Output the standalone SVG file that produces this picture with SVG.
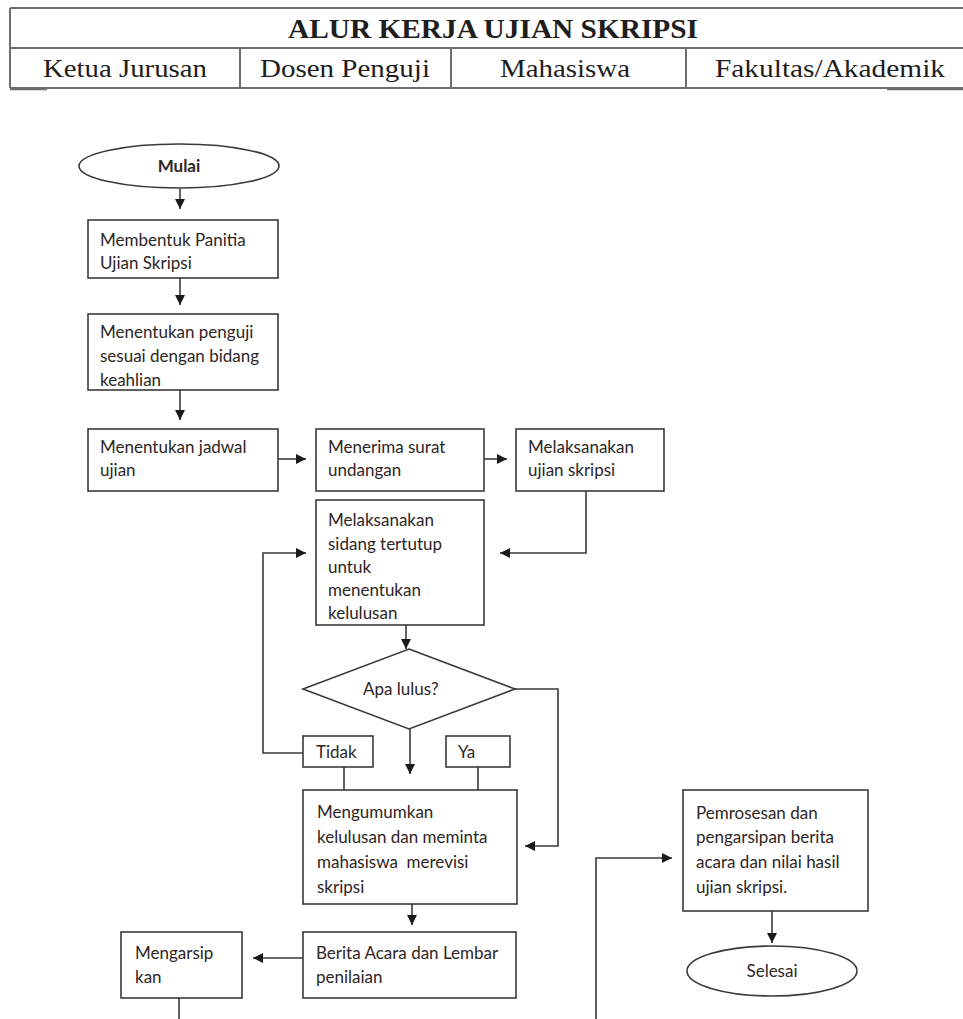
<svg xmlns="http://www.w3.org/2000/svg" width="963" height="1019" viewBox="0 0 963 1019">
<style>
.hd{fill:none;stroke:#6e6e6e;stroke-width:2}
.nd{fill:#fff;stroke:#3a3a3a;stroke-width:1.6}
.cn{fill:none;stroke:#3a3a3a;stroke-width:1.6}
.t{font-family:Lato,"Open Sans",sans-serif;font-size:17px;fill:#2e2626}
.b{font-weight:bold}
.ht{font-family:"Liberation Serif","Times New Roman",serif;fill:#1e1e1e}
</style>
<defs>
<marker id="ah" markerUnits="userSpaceOnUse" markerWidth="10" markerHeight="10" viewBox="0 0 10 10" refX="10" refY="5" orient="auto">
<path d="M0,0 L10,5 L0,10 z" fill="#1a1a1a"/>
</marker>
</defs>
<rect width="963" height="1019" fill="#fff"/>
<g id="header">
<path class="hd" d="M10,8 H975 M10,48 H975 M10,88 H975 M10,8 V88 M240,48 V88 M451,48 V88 M686,48 V88"/>
<path d="M10,89.5 H47 M887,89.5 H963" stroke="#6e6e6e" stroke-width="1.5"/>
<text class="ht" x="493" y="38" text-anchor="middle" font-size="27" font-weight="bold" textLength="410" lengthAdjust="spacingAndGlyphs">ALUR KERJA UJIAN SKRIPSI</text>
<text class="ht" x="125" y="77" text-anchor="middle" font-size="25" textLength="164" lengthAdjust="spacingAndGlyphs">Ketua Jurusan</text>
<text class="ht" x="345" y="77" text-anchor="middle" font-size="25" textLength="170" lengthAdjust="spacingAndGlyphs">Dosen Penguji</text>
<text class="ht" x="565" y="77" text-anchor="middle" font-size="25" textLength="130" lengthAdjust="spacingAndGlyphs">Mahasiswa</text>
<text class="ht" x="830" y="77" text-anchor="middle" font-size="25" textLength="230" lengthAdjust="spacingAndGlyphs">Fakultas/Akademik</text>
</g>
<g id="connectors">
<path class="cn" d="M180,189 V209" marker-end="url(#ah)"/>
<path class="cn" d="M180,278 V305" marker-end="url(#ah)"/>
<path class="cn" d="M180,390 V420" marker-end="url(#ah)"/>
<path class="cn" d="M278,459 H306" marker-end="url(#ah)"/>
<path class="cn" d="M484,459 H507" marker-end="url(#ah)"/>
<path class="cn" d="M586,491 V553 H500" marker-end="url(#ah)"/>
<path class="cn" d="M406,625 V649" marker-end="url(#ah)"/>
<path class="cn" d="M515,689 H558 V846 H525" marker-end="url(#ah)"/>
<path class="cn" d="M410,729 V774" marker-end="url(#ah)"/>
<path class="cn" d="M303,753 H263 V553 H306" marker-end="url(#ah)"/>
<path class="cn" d="M344,767 V790 M478,767 V790"/>
<path class="cn" d="M412,904 V925" marker-end="url(#ah)"/>
<path class="cn" d="M303,958 H253" marker-end="url(#ah)"/>
<path class="cn" d="M179,998 V1019"/>
<path class="cn" d="M596,1019 V858 H672" marker-end="url(#ah)"/>
<path class="cn" d="M772,911 V943" marker-end="url(#ah)"/>
</g>
<g id="mulai">
<ellipse class="nd" cx="179" cy="166" rx="100" ry="22"/>
<text class="t b" x="179" y="172" text-anchor="middle">Mulai</text>
</g>
<g id="membentuk-panitia">
<rect class="nd" x="88" y="220" width="190" height="58"/>
<text class="t" x="100" y="246">Membentuk Panitia</text>
<text class="t" x="100" y="269">Ujian Skripsi</text>
</g>
<g id="menentukan-penguji">
<rect class="nd" x="88" y="314" width="190" height="76"/>
<text class="t" x="100" y="338">Menentukan penguji</text>
<text class="t" x="100" y="362">sesuai dengan bidang</text>
<text class="t" x="100" y="386">keahlian</text>
</g>
<g id="menentukan-jadwal">
<rect class="nd" x="88" y="429" width="190" height="62"/>
<text class="t" x="100" y="453">Menentukan jadwal</text>
<text class="t" x="100" y="476">ujian</text>
</g>
<g id="menerima-surat">
<rect class="nd" x="316" y="429" width="168" height="62"/>
<text class="t" x="328" y="453">Menerima surat</text>
<text class="t" x="328" y="476">undangan</text>
</g>
<g id="melaksanakan-ujian">
<rect class="nd" x="516" y="429" width="148" height="62"/>
<text class="t" x="528" y="453">Melaksanakan</text>
<text class="t" x="528" y="476">ujian skripsi</text>
</g>
<g id="sidang-tertutup">
<rect class="nd" x="316" y="500" width="168" height="125"/>
<text class="t" x="328" y="526">Melaksanakan</text>
<text class="t" x="328" y="550">sidang tertutup</text>
<text class="t" x="328" y="573">untuk</text>
<text class="t" x="328" y="596">menentukan</text>
<text class="t" x="328" y="619">kelulusan</text>
</g>
<g id="apa-lulus">
<polygon class="nd" points="409,649 515,689 409,729 303,689"/>
<text class="t" x="363" y="695">Apa lulus?</text>
</g>
<g id="tidak">
<rect class="nd" x="303" y="736" width="70" height="31"/>
<text class="t" x="316" y="758">Tidak</text>
</g>
<g id="ya">
<rect class="nd" x="446" y="736" width="64" height="31"/>
<text class="t" x="458" y="758">Ya</text>
</g>
<g id="mengumumkan">
<rect class="nd" x="303" y="790" width="214" height="114"/>
<text class="t" x="317" y="818">Mengumumkan</text>
<text class="t" x="317" y="843">kelulusan dan meminta</text>
<text class="t" x="317" y="868" xml:space="preserve">mahasiswa  merevisi</text>
<text class="t" x="317" y="893">skripsi</text>
</g>
<g id="berita-acara">
<rect class="nd" x="303" y="932" width="213" height="66"/>
<text class="t" x="316" y="959">Berita Acara dan Lembar</text>
<text class="t" x="316" y="983">penilaian</text>
</g>
<g id="mengarsipkan">
<rect class="nd" x="121" y="932" width="121" height="66"/>
<text class="t" x="135" y="959">Mengarsip</text>
<text class="t" x="135" y="983">kan</text>
</g>
<g id="pemrosesan">
<rect class="nd" x="683" y="790" width="185" height="121"/>
<text class="t" x="696" y="819">Pemrosesan dan</text>
<text class="t" x="696" y="843">pengarsipan berita</text>
<text class="t" x="696" y="868">acara dan nilai hasil</text>
<text class="t" x="696" y="893">ujian skripsi.</text>
</g>
<g id="selesai">
<ellipse class="nd" cx="772" cy="971" rx="85" ry="25"/>
<text class="t" x="772" y="977" text-anchor="middle">Selesai</text>
</g>
</svg>
